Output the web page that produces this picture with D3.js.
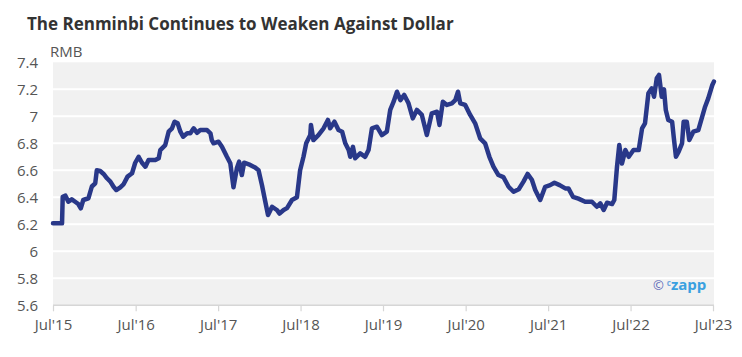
<!DOCTYPE html>
<html>
<head>
<meta charset="utf-8">
<script src="https://cdn.jsdelivr.net/npm/d3@7"></script>
<style>
  html, body { margin: 0; padding: 0; background: #fff; }
  svg { display: block; font-family: "Open Sans", "Noto Sans", sans-serif; }
</style>
</head>
<body>
<svg id="chart" width="742" height="357"></svg>
<script>
const title = "The Renminbi Continues to Weaken Against Dollar";
const unitLabel = "RMB";
const yTicks = [5.6, 5.8, 6, 6.2, 6.4, 6.6, 6.8, 7, 7.2, 7.4];
const xTickDates = ["2015-07-01","2016-07-01","2017-07-01","2018-07-01","2019-07-01","2020-07-01","2021-07-01","2022-07-01","2023-07-01"];
const xTickLabels = ["Jul'15","Jul'16","Jul'17","Jul'18","Jul'19","Jul'20","Jul'21","Jul'22","Jul'23"];

const dates = [
"2015-07-01","2015-08-10","2015-08-13","2015-08-25","2015-09-07","2015-09-22","2015-10-07","2015-10-21","2015-11-01","2015-11-12",
"2015-12-05","2015-12-20","2016-01-04","2016-01-11","2016-01-26","2016-02-10","2016-02-25","2016-03-11","2016-03-25","2016-04-06",
"2016-04-24","2016-05-09","2016-05-26","2016-06-15","2016-06-29","2016-07-14","2016-07-29","2016-08-13","2016-08-27","2016-09-26",
"2016-10-11","2016-10-18","2016-11-09","2016-11-24","2016-12-09","2016-12-20","2017-01-03","2017-01-15","2017-01-27","2017-02-14",
"2017-02-28","2017-03-15","2017-03-30","2017-04-13","2017-05-13","2017-05-28","2017-06-03","2017-06-11","2017-07-03","2017-07-18",
"2017-08-09","2017-08-24","2017-09-07","2017-09-22","2017-10-02","2017-10-14","2017-10-24","2017-11-20","2017-12-12","2017-12-27",
"2018-01-11","2018-01-26","2018-02-07","2018-02-25","2018-03-18","2018-03-30","2018-04-17","2018-05-02","2018-05-24","2018-06-15",
"2018-06-29","2018-07-14","2018-07-26","2018-08-13","2018-08-16","2018-08-27","2018-09-18","2018-10-11","2018-10-30","2018-11-09",
"2018-11-28","2018-12-16","2019-01-01","2019-01-15","2019-01-30","2019-02-06","2019-02-18","2019-02-28","2019-03-22","2019-04-13",
"2019-04-28","2019-05-13","2019-06-04","2019-06-26","2019-07-18","2019-08-02","2019-08-17","2019-09-01","2019-09-16","2019-10-03",
"2019-10-22","2019-11-10","2019-11-28","2019-12-20","2020-01-11","2020-02-02","2020-02-25","2020-03-07","2020-03-22","2020-04-09",
"2020-05-01","2020-05-16","2020-05-28","2020-06-07","2020-06-29","2020-07-21","2020-08-12","2020-09-03","2020-09-25","2020-10-14",
"2020-11-01","2020-11-23","2020-12-15","2021-01-07","2021-01-29","2021-02-21","2021-03-14","2021-04-01","2021-04-20","2021-05-05",
"2021-05-27","2021-06-18","2021-07-10","2021-07-29","2021-08-21","2021-09-15","2021-09-29","2021-10-19","2021-11-12","2021-12-12",
"2022-01-11","2022-02-02","2022-02-17","2022-03-04","2022-03-19","2022-04-10","2022-04-20","2022-05-02","2022-05-12","2022-05-24",
"2022-06-08","2022-06-23","2022-07-14","2022-08-06","2022-08-21","2022-09-03","2022-09-18","2022-10-03","2022-10-13","2022-10-25",
"2022-11-04","2022-11-16","2022-11-26","2022-12-04","2022-12-15","2023-01-01","2023-01-08","2023-01-18","2023-01-30","2023-02-14",
"2023-02-21","2023-03-07","2023-03-18","2023-04-05","2023-04-27","2023-05-12","2023-05-27","2023-06-10","2023-06-28","2023-07-05"
];
const rates = [
6.207,6.207,6.404,6.412,6.367,6.385,6.367,6.350,6.318,6.380,
6.393,6.480,6.504,6.600,6.595,6.573,6.541,6.516,6.478,6.454,
6.474,6.498,6.553,6.578,6.656,6.700,6.656,6.627,6.676,6.676,
6.689,6.750,6.787,6.886,6.911,6.960,6.948,6.886,6.849,6.874,
6.874,6.911,6.878,6.898,6.898,6.874,6.824,6.800,6.812,6.775,
6.700,6.652,6.474,6.615,6.664,6.565,6.656,6.640,6.620,6.600,
6.491,6.367,6.269,6.330,6.306,6.280,6.306,6.320,6.380,6.400,
6.600,6.700,6.800,6.861,6.936,6.824,6.861,6.911,6.973,6.911,
6.960,6.898,6.886,6.800,6.750,6.700,6.774,6.689,6.726,6.700,
6.750,6.911,6.923,6.861,6.886,7.047,7.108,7.182,7.120,7.158,
7.096,6.985,7.047,7.010,6.861,7.022,7.034,6.936,7.108,7.084,
7.096,7.120,7.182,7.096,7.084,7.010,6.948,6.837,6.800,6.700,
6.627,6.565,6.550,6.478,6.441,6.460,6.516,6.573,6.530,6.454,
6.380,6.478,6.490,6.508,6.490,6.466,6.466,6.404,6.390,6.367,
6.367,6.330,6.355,6.306,6.360,6.350,6.380,6.627,6.787,6.650,
6.750,6.700,6.750,6.750,6.911,6.948,7.170,7.207,7.145,7.281,
7.306,7.145,7.200,7.047,6.973,6.960,6.849,6.700,6.738,6.800,
6.960,6.960,6.824,6.886,6.898,6.985,7.071,7.133,7.232,7.257
];

const parse = d3.timeParse("%Y-%m-%d");
const data = dates.map((d, i) => ({ date: parse(d), value: rates[i] }));

const svg = d3.select("#chart");
const plotLeft = 53, plotRight = 713, plotTop = 62.3, plotBottom = 305.3, bgRight = 714;

const x = d3.scaleTime()
  .domain([parse(xTickDates[0]), parse(xTickDates[xTickDates.length - 1])])
  .range([plotLeft, plotRight]);
const y = d3.scaleLinear().domain([5.6, 7.4]).range([plotBottom, plotTop]);

// title
svg.append("text")
  .attr("x", 27).attr("y", 30)
  .attr("font-size", 17).attr("font-weight", 700)
  .attr("fill", "#333")
  .text(title);

// plot background
svg.append("rect")
  .attr("x", plotLeft).attr("y", plotTop)
  .attr("width", bgRight - plotLeft).attr("height", plotBottom - plotTop)
  .attr("fill", "#f1f1f1");

// gridlines
svg.append("g").selectAll("line")
  .data(yTicks.filter(t => t > 5.6 && t < 7.4))
  .join("line")
  .attr("x1", plotLeft).attr("x2", bgRight)
  .attr("y1", d => y(d)).attr("y2", d => y(d))
  .attr("stroke", "#fff").attr("stroke-width", 2);

// y axis labels
const yAxis = d3.axisLeft(y).tickValues(yTicks).tickSize(0).tickPadding(15)
  .tickFormat(d => String(+d.toFixed(1)));
const gy = svg.append("g").attr("transform", `translate(${plotLeft},0)`).call(yAxis);
gy.select(".domain").remove();
gy.selectAll("text").attr("font-size", 15).attr("fill", "#555")
  .attr("font-family", "'Open Sans', sans-serif");

// x axis
const xAxis = d3.axisBottom(x)
  .tickValues(xTickDates.map(parse))
  .tickSize(6).tickPadding(8)
  .tickFormat((d, i) => xTickLabels[i]);
const gx = svg.append("g").attr("transform", `translate(0,${plotBottom})`).call(xAxis);
gx.select(".domain").attr("stroke", "#d6d6d6").attr("stroke-width", 1.5)
  .attr("d", `M${plotLeft},0H${bgRight}`);
gx.selectAll(".tick line").attr("stroke", "#d6d6d6").attr("stroke-width", 1.2);
gx.selectAll("text").attr("font-size", 15).attr("fill", "#555")
  .attr("font-family", "'Open Sans', sans-serif");

// unit label
svg.append("text")
  .attr("x", 50).attr("y", 57)
  .attr("font-size", 15).attr("fill", "#555")
  .text(unitLabel);

// line
const line = d3.line().x(d => x(d.date)).y(d => y(d.value));
svg.append("path")
  .datum(data)
  .attr("d", line)
  .attr("fill", "none")
  .attr("stroke", "#293889")
  .attr("stroke-width", 4.5)
  .attr("stroke-linejoin", "round")
  .attr("stroke-linecap", "round");

// watermark
const wm = svg.append("text").attr("x", 653).attr("y", 290)
  .attr("font-size", 15).attr("font-weight", 700);
wm.append("tspan").attr("fill", "#5a68b8").attr("font-weight", 400).attr("font-size", 13).text("©");
wm.append("tspan").attr("fill", "#6fa8e0").attr("font-size", 8).attr("dx", 3).attr("dy", -4).text("c");
wm.append("tspan").attr("fill", "#3aa0e0").attr("dy", 4).text("zapp");
</script>
</body>
</html>
